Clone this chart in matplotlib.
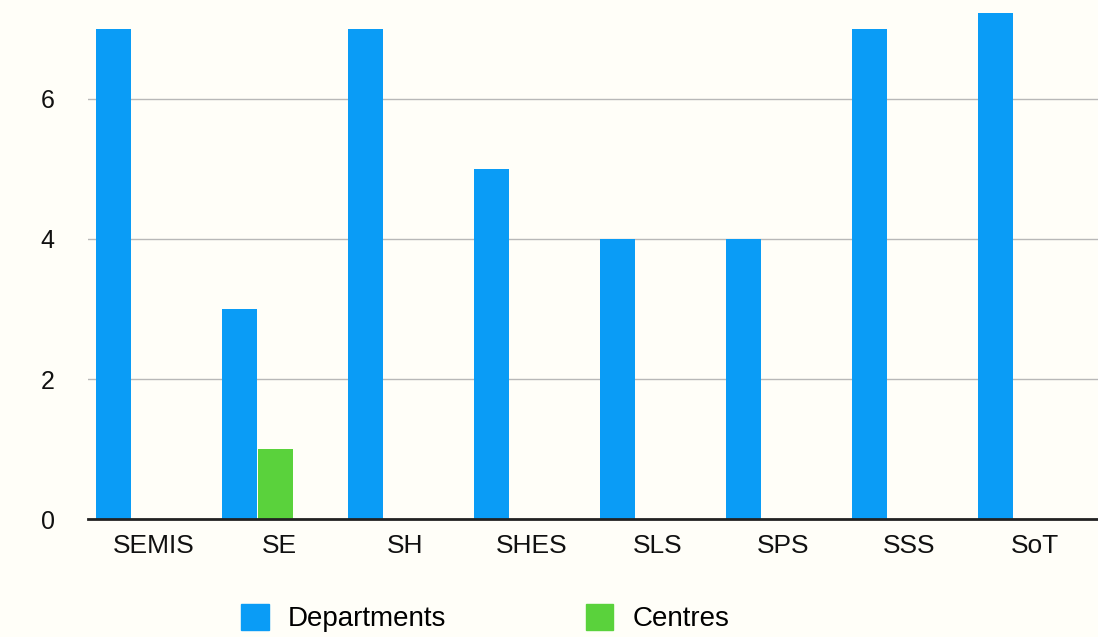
import numpy as np
import matplotlib
matplotlib.use("Agg")
import matplotlib.pyplot as plt
from matplotlib.patches import Patch

plt.rcParams['font.family'] = ['Liberation Sans', 'DejaVu Sans']

schools = ['SEMIS', 'SE', 'SH', 'SHES', 'SLS', 'SPS', 'SSS', 'SoT']
departments = [7, 3, 7, 5, 4, 4, 7, 8]
centres = [0, 1, 0, 0, 0, 0, 0, 0]
yticks = [0, 2, 4, 6]

blue = '#0a9cf6'
green = '#5ad23c'
bg = '#fffef8'

fig = plt.figure(figsize=(10.98, 6.37), dpi=100, facecolor=bg)
ax = fig.add_axes([0.080, 0.185, 0.92, 0.795])
ax.set_facecolor(bg)

x = np.arange(len(schools))
w = 0.278
ax.bar(x - 0.143, departments, w, color=blue, zorder=3)
ax.bar(x + 0.143, centres, w, color=green, zorder=3)

ax.set_ylim(0, 7.23)
ax.set_xlim(-0.349, 7.667)
ax.set_yticks(yticks)
ax.set_xticks(x + 0.17)
ax.set_xticklabels(schools, fontsize=19)
ax.tick_params(axis='both', length=0, colors='#111111')
ax.tick_params(axis='y', pad=24, labelsize=18)
ax.tick_params(axis='x', pad=11)
ax.grid(axis='y', color='#b8b8b8', linewidth=1, zorder=0)
for s in ['top', 'right', 'left']:
    ax.spines[s].set_visible(False)
ax.spines['bottom'].set_color('#222222')
ax.spines['bottom'].set_linewidth(2)
ax.spines['bottom'].set_zorder(4)

handles = [Patch(color=blue, label='Departments'), Patch(color=green, label='Centres')]
fig.legend(handles=handles, loc='center', bbox_to_anchor=(0.442, 0.03), ncol=2,
           frameon=False, fontsize=20, handlelength=1.0, handleheight=1.1,
           handletextpad=0.7, columnspacing=5.0)

fig.savefig('out.png', dpi=100, facecolor=bg)
